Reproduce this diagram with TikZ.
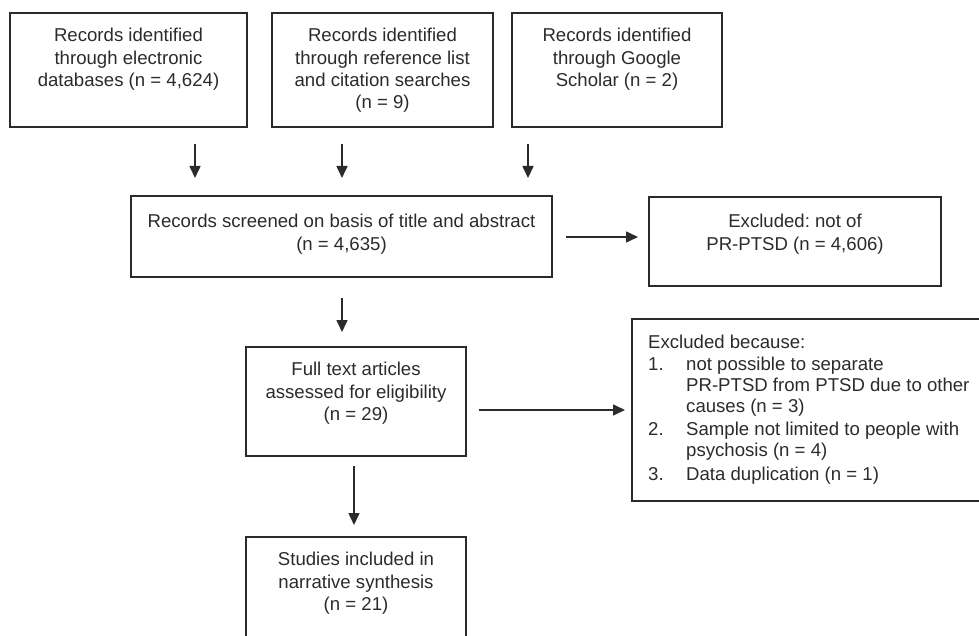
\documentclass[tikz,border=0pt]{standalone}
\usepackage{fontspec}
\setmainfont{Liberation Sans}
\usetikzlibrary{arrows.meta,calc}
\definecolor{ink}{HTML}{2B2B2B}
\frenchspacing
\begin{document}
\begin{tikzpicture}[x=1pt,y=-1pt,
  box/.style={draw=ink,line width=1.6pt,inner sep=0pt},
  txt/.style={text=ink,font=\fontsize{18.6}{22.2}\selectfont\frenchspacing,align=center,inner sep=0pt,anchor=north},
  ltxt/.style={text=ink,font=\fontsize{18.6}{20.8}\selectfont\frenchspacing,align=left,inner sep=0pt,anchor=north west},
  arr/.style={draw=ink,line width=1.6pt,-{Triangle[length=12pt,width=11pt]}}]
\useasboundingbox (0,0) rectangle (979,636);
\clip (0,0) rectangle (979,636);
% boxes
\node[box,minimum width=237pt,minimum height=114pt] (b1) at (128.5,70) {};
\node[box,minimum width=221pt,minimum height=114pt] (b2) at (382.5,70) {};
\node[box,minimum width=210pt,minimum height=114pt] (b3) at (617,70) {};
\node[box,minimum width=421pt,minimum height=81pt] (scr) at (341.5,236.5) {};
\node[box,minimum width=292pt,minimum height=89pt] (ex1) at (795,241.5) {};
\node[box,minimum width=220pt,minimum height=109pt] (full) at (356,401.5) {};
\node[box,minimum width=220pt,minimum height=120pt] (stud) at (356,597) {};
\node[box,minimum width=360pt,minimum height=182pt] (ex2) at (812,410) {};
% texts
\node[txt] (t1) at ($(b1.north)+(0,16)$) {Records identified\\through electronic\\databases (n = 4,624)};
\node[txt] (t2) at ($(b2.north)+(0,16)$) {Records identified\\through reference list\\and citation searches\\(n = 9)};
\node[txt] (t3) at ($(b3.north)+(0,16)$) {Records identified\\through Google\\Scholar (n = 2)};
\node[txt] (tscr) at ($(scr.north)+(0,19)$) {Records screened on basis of title and abstract\\(n = 4,635)};
\node[txt] (tex1) at ($(ex1.north)+(0,18)$) {Excluded: not of\\PR-PTSD (n = 4,606)};
\node[txt] (tfull) at ($(full.north)+(0,16)$) {Full text articles\\assessed for eligibility\\(n = 29)};
\node[txt] (tstud) at ($(stud.north)+(0,16)$) {Studies included in\\narrative synthesis\\(n = 21)};
\node[ltxt] (tex2) at (648,335) {Excluded because:\\[1pt]
\makebox[38pt][l]{1.}not possible to separate\\
\hspace*{38pt}PR-PTSD from PTSD due to other\\
\hspace*{38pt}causes (n = 3)\\[3pt]
\makebox[38pt][l]{2.}Sample not limited to people with\\
\hspace*{38pt}psychosis (n = 4)\\[3pt]
\makebox[38pt][l]{3.}Data duplication (n = 1)};
% arrow endpoints
\coordinate (a1s) at (195,144); \coordinate (a1e) at (195,178);
\coordinate (a2s) at (342,144); \coordinate (a2e) at (342,178);
\coordinate (a3s) at (528,144); \coordinate (a3e) at (528,178);
\coordinate (a4s) at (566,237); \coordinate (a4e) at (638,237);
\coordinate (a5s) at (342,298); \coordinate (a5e) at (342,332);
\coordinate (a6s) at (354,466); \coordinate (a6e) at (354,525);
\coordinate (a7s) at (479,410); \coordinate (a7e) at (625,410);
\draw[arr] (a1s) -- (a1e);
\draw[arr] (a2s) -- (a2e);
\draw[arr] (a3s) -- (a3e);
\draw[arr] (a4s) -- (a4e);
\draw[arr] (a5s) -- (a5e);
\draw[arr] (a6s) -- (a6e);
\draw[arr] (a7s) -- (a7e);
\end{tikzpicture}
\end{document}
